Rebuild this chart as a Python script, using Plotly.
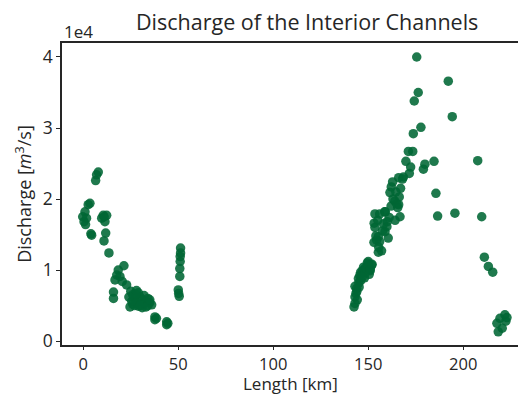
import plotly.graph_objects as go

# Length along channel [km]
length_km = [
    -0.3, 0.4, 0.9, 1.7, 2.6, 3.5, 1.2, 4.4, 4.0, 6.5, 7.0, 7.9,
    9.7, 10.5, 11.4, 12.3, 11.0, 11.8, 10.9, 13.5, 21.4, 18.4, 17.6, 19.3,
    16.7, 22.8, 20.5, 15.9, 15.9, 24.6,
    25, 26, 27, 28, 26, 27, 29, 30, 31, 32, 33, 34, 35, 36, 29, 31, 33, 28,
    30, 32, 34, 25.5, 27.5, 35, 24,
    37.7, 37.7, 38.5, 43.9, 43.9, 44.5,
    51.2, 51.2, 51.0, 51.0, 50.8, 50.8, 50.0, 50.2, 50.5,
    175.5, 192.1, 176.3, 174.2, 194.2, 177.7, 173.7, 171.1, 173.4, 169.8,
    184.6, 179.8, 179.0, 207.6, 172.3, 171.6, 168.5, 162.8, 162.1, 161.4,
    166.3, 185.6, 166.0, 165.5, 153.5, 158.6, 166.7, 164.1, 186.5, 195.6,
    209.7, 153.1, 159.8, 158.8, 155.3, 160.5, 154.4, 157.0, 155.3, 150.0,
    151.8, 148.2, 151.0, 146.5, 144.8, 143.0, 143.9, 143.0, 142.5,
    211.1, 213.2, 215.5, 221.9, 219.3, 222.4, 217.7, 218.4, 220.5, 223.0,
    145.5, 146.0, 147.0, 147.5, 148.5, 149.0, 150.0, 149.5, 146.0, 145.0,
    144.0, 143.5, 144.2, 143.0, 148.0, 150.5, 151.0, 152.0, 146.8, 145.2,
    153.0, 154.0, 156.0, 157.5, 158.0, 155.0, 156.0, 153.5, 155.5, 160.0,
    159.0, 161.0, 162.0, 164.0, 165.0, 163.0, 164.5, 167.0, 168.0, 166.0,
]

# Discharge [m^3/s]
discharge = [
    17500, 16800, 18200, 17300, 19200, 19400, 16400, 14900, 15100, 22600, 23400, 23800,
    17300, 17700, 16800, 17700, 17500, 15200, 14100, 12400, 10600, 10000, 9300, 9100,
    8600, 7900, 8400, 6900, 6000, 4800,
    7000, 6500, 6000, 5500, 5200, 5000, 6800, 6200, 5800, 5300, 5600, 6000, 5400, 5100, 4900, 4700, 4800, 7100,
    5000, 6400, 5000, 5600, 6600, 5800, 6200,
    3400, 3000, 3200, 2700, 2300, 2500,
    13100, 12400, 11900, 11200, 10200, 9100, 7200, 6700, 6300,
    40000, 36600, 35000, 33800, 31600, 30100, 29200, 26700, 26700, 25300,
    25300, 24900, 24200, 25400, 24500, 23600, 23100, 22400, 21700, 20900,
    20300, 20800, 19200, 18800, 17900, 18200, 17500, 17000, 17600, 18000,
    17500, 16600, 16100, 15400, 14700, 14500, 14200, 12700, 12500, 11200,
    10700, 10200, 9900, 9500, 8800, 7700, 7400, 6200, 4800,
    11800, 10500, 9700, 3700, 3200, 2800, 2500, 1300, 1800, 3300,
    9200, 9700, 9900, 10400, 9600, 10300, 10700, 11000, 8500, 8200,
    7000, 6700, 5800, 5300, 8900, 9400, 10100, 10800, 9000, 7600,
    13900, 14800, 14000, 15500, 16500, 17000, 17900, 16000, 13200, 16800,
    18200, 17400, 19000, 19700, 19300, 20000, 21000, 21500, 22800, 23000,
]

y_ticks = [0, 10000, 20000, 30000, 40000]
y_tick_text = ["0", "1", "2", "3", "4"]
x_ticks = [0, 50, 100, 150, 200]

font_family = "Open Sans, DejaVu Sans, sans-serif"
ink = "#262626"

fig = go.Figure()
fig.add_trace(go.Scatter(
    x=length_km, y=discharge, mode="markers",
    marker=dict(size=9.5, color="rgba(0,102,52,0.88)", line=dict(width=0)),
    showlegend=False,
))

fig.update_layout(
    width=518, height=396,
    margin=dict(l=62, r=0, t=43, b=51),
    paper_bgcolor="white", plot_bgcolor="white",
    font=dict(family=font_family, color=ink, size=18),
    title=dict(text="Discharge of the Interior Channels", x=0.593, xanchor="center",
               y=0.944, yanchor="middle", font=dict(size=21.5, color=ink)),
)

fig.update_xaxes(
    range=[-11.2, 228.8], tickvals=x_ticks, showgrid=False, zeroline=False,
    showline=True, linecolor=ink, linewidth=1.5, mirror=True,
    ticks="outside", ticklen=3, tickcolor=ink, tickfont=dict(size=16.5),
    automargin=False,
)
fig.update_yaxes(
    range=[-560, 41970], tickvals=y_ticks, ticktext=y_tick_text,
    showgrid=False, zeroline=False,
    showline=True, linecolor=ink, linewidth=1.5,
    ticks="outside", ticklen=4, tickcolor=ink, tickfont=dict(size=17.5),
    automargin=False,
    title=dict(text="Discharge [<i>m</i><sup>3</sup>/s]", font=dict(size=18), standoff=6),
)

# x-axis title placed below the tick labels
fig.add_annotation(text="Length [km]", xref="paper", yref="paper", x=0.5, y=0,
                   xanchor="center", yanchor="top", showarrow=False, yshift=-26,
                   borderpad=0, font=dict(size=17, color=ink))

fig.add_annotation(text="1e4", xref="paper", yref="paper", x=0, y=1,
                   xanchor="left", yanchor="bottom", showarrow=False,
                   font=dict(size=17, color=ink), yshift=-2)

fig.write_html("out.html")
